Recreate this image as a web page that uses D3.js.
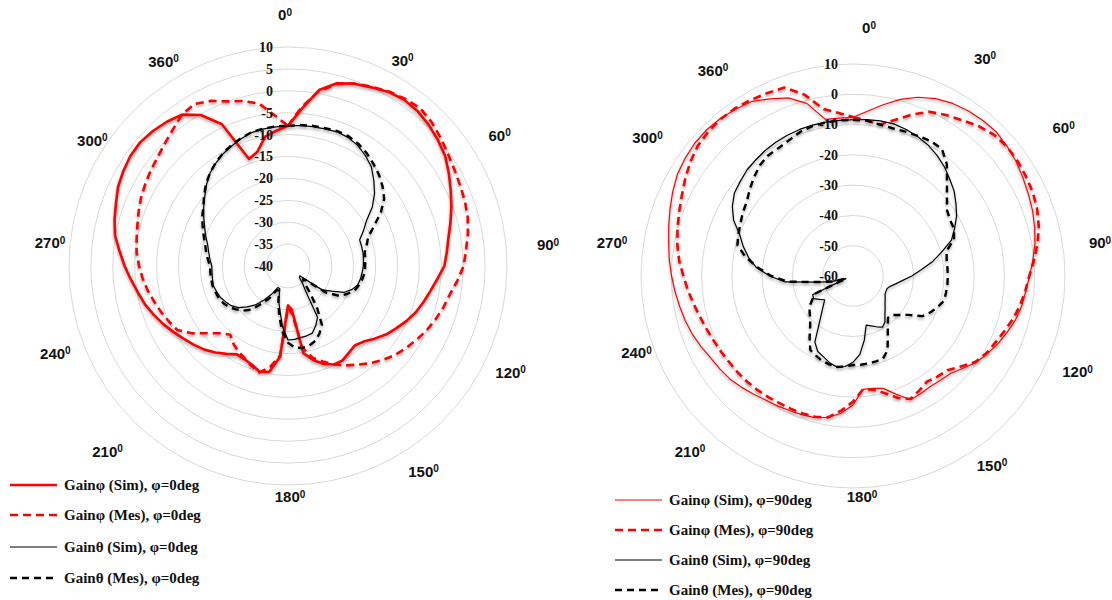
<!DOCTYPE html>
<html>
<head>
<meta charset="utf-8">
<script src="https://cdn.jsdelivr.net/npm/d3@7"></script>
<style>
  body { margin: 0; background: #fff; }
  text { fill: #111; }
</style>
</head>
<body>
<svg id="chart" width="1112" height="600"></svg>
<script>
// categories: one sample every 5 degrees
const angles = d3.range(0, 360, 5);

// angle tick labels (the original prints 360 at the 330 position)
const angleTicks = [0, 30, 60, 90, 120, 150, 180, 210, 240, 270, 300, 330];
const angleTickText = ["0", "30", "60", "90", "120", "150", "180", "210", "240", "270", "300", "360"];

// radial ticks (dB)
const ticksPhi0 = [10, 5, 0, -5, -10, -15, -20, -25, -30, -35, -40];
const ticksPhi90 = [10, 0, -10, -20, -30, -40, -50, -60];

// ---- phi = 0 deg cut ----
const gainPhiSim0 = [
  -8, -4, 0.8, 3.2, 4.3, 5.0, 5.9, 6.3, 6.1, 5.5, 4.7, 3.8,
  2.4, 1.0, -0.3, -1.6, -2.8, -3.6, -4.3, -5.8, -7.0, -8.0, -9.0, -10.2,
  -11.5, -12.7, -14.2, -15.6, -16.3, -15.8, -15.1, -15.2, -16.2, -17.8, -19.8, -30,
  -31, -19.2, -15.5, -15.0, -16.0, -16.5, -16.7, -15.5, -14.2, -13.0, -12.0, -11.0,
  -9.8, -8.6, -7.4, -6.2, -5.2, -4.0, -2.7, -1.4, 0.1, 1.0, 1.8, 2.8,
  3.4, 3.9, 4.0, 3.6, 3.0, 2.2, -0.2, -4.3, -14, -13, -10, -9
];
const gainPhiMes0 = [
  -8, -3.5, 0.5, 3.0, 4.3, 5.2, 6.0, 6.6, 7.0, 6.4, 5.5, 4.6,
  3.9, 3.4, 3.0, 2.5, 1.7, 0.8, 0.1, -1.2, -2.5, -3.3, -4.2, -5.1,
  -6.2, -7.2, -8.3, -9.6, -11.0, -12.5, -13.8, -15.2, -16.8, -18.3, -21, -29,
  -30.5, -19.5, -16.6, -14.8, -15.7, -16.7, -17.4, -18.3, -19.5, -18.3, -16.1, -13.2,
  -10.8, -10.0, -9.2, -8.4, -7.5, -6.7, -6.0, -5.3, -4.9, -4.4, -3.7, -3.0,
  -2.4, -1.8, -1.2, -0.3, 0.8, 2.2, 2.7, 1.6, 0.0, -1.0, -2.4, -5.5
];
const gainThetaSim0 = [
  -8.0, -7.8, -7.7, -7.6, -7.4, -7.6, -8.2, -9.2, -10.4, -12.3, -14.2, -16.5,
  -19.3, -21.0, -22.6, -22.6, -22.6, -22.7, -22.8, -23.0, -23.2, -23.5, -24.4, -25.8,
  -28.5, -30.5, -36.5, -36.3, -34.8, -33, -26.5, -25, -23.7, -23.5, -23.4, -23.2,
  -23.1, -26, -29.5, -31.8, -34.5, -34.6, -32.6, -30.6, -28.4, -26.8, -25.2, -24.2,
  -23.6, -23.0, -22.7, -22.4, -22.5, -22.6, -22.6, -22.1, -21.6, -21.0, -20.0, -19.0,
  -17.8, -16.5, -15.2, -13.7, -12.3, -11.3, -10.4, -9.7, -9.0, -8.4, -8.2, -8.1
];
const gainThetaMes0 = [
  -8.0, -7.7, -7.5, -7.4, -7.2, -7.3, -7.8, -8.6, -9.6, -10.6, -11.8, -13.2,
  -15.5, -18.3, -20.5, -21.4, -22.2, -22.3, -22.4, -22.4, -22.8, -23.2, -23.8, -25.0,
  -26.3, -29.5, -35.5, -35.0, -32.5, -28.5, -24.5, -23.0, -21.8, -21.2, -21.0, -21.3,
  -22.5, -25, -28.5, -31.5, -34, -34, -31.5, -29.5, -27.0, -25.6, -24.6, -23.6,
  -23.0, -22.6, -22.4, -22.2, -22.2, -22.2, -22.2, -21.6, -21.0, -20.4, -19.5, -18.5,
  -17.4, -16.4, -15.0, -13.5, -12.3, -11.2, -10.3, -9.5, -8.9, -8.3, -8.1, -8.0
];

// ---- phi = 90 deg cut ----
const gainPhiSim90 = [
  -7.6, -5.4, -2.6, 0.4, 2.8, 4.6, 5.8, 6.5, 6.9, 7.1, 6.5, 5.8,
  4.8, 3.9, 3.1, 2.1, 1.0, -0.4, -1.7, -2.7, -3.4, -4.4, -5.8, -7.2,
  -8.7, -10.3, -12.6, -14.5, -15.1, -15.5, -15.2, -14.9, -18.5, -21.6, -22.3, -22.4,
  -17.4, -14.5, -12.6, -11.6, -11.2, -10.9, -10.4, -9.9, -9.0, -8.0, -7.0, -6.4,
  -5.8, -4.7, -3.6, -2.7, -1.9, -1.0, -0.1, 0.9, 1.8, 3.0, 4.3, 5.7,
  7.0, 7.7, 8.2, 8.3, 8.0, 7.3, 6.6, 4.5, 2.6, -1.0, -7.5, -7.7
];
const gainPhiMes90 = [
  -7.5, -8.5, -9.2, -6.7, -3.3, -0.2, 1.4, 2.8, 4.6, 5.9, 6.4, 6.3,
  5.9, 5.5, 4.7, 3.5, 1.9, 0.0, -1.8, -2.9, -4.0, -5.3, -6.8, -8.1,
  -9.1, -10.6, -13.5, -16.0, -16.6, -17.4, -16.3, -15.2, -17.2, -20.0, -21.9, -22.4,
  -18.5, -15.4, -12.6, -11.9, -11.7, -11.6, -11.5, -11.2, -10.9, -10.6, -10.4, -10.2,
  -9.8, -9.3, -8.6, -7.7, -6.6, -5.3, -4.0, -2.4, -1.1, 0.0, 1.1, 2.4,
  4.0, 5.6, 6.9, 7.5, 7.8, 7.7, 7.2, 6.7, 6.2, 2.0, -4, -6
];
const gainThetaSim90 = [
  -8.4, -8.2, -8.0, -8.0, -8.5, -9.3, -10.2, -11.5, -13.0, -14.8, -16.4, -18.5,
  -20.5, -23.0, -25.4, -29.8, -33.5, -37.5, -40.6, -43.5, -45.5, -47.1, -48, -48,
  -47.8, -47, -46.2, -45, -43.6, -41.6, -40.5, -41.5, -42.5, -43.2, -38.5, -34,
  -31.5, -30, -29.5, -30.3, -31.6, -32.5, -34.8, -40.4, -43.8, -46.1, -47.8, -46.5,
  -45, -45.3, -57.5, -53, -48.5, -37.5, -32.5, -28, -25, -22.5, -20.2, -16.5,
  -14, -12.2, -11.4, -10.5, -10.0, -9.4, -9.0, -8.7, -8.5, -8.4, -8.4, -8.4
];
const gainThetaMes90 = [
  -8.4, -8.5, -9.2, -9.5, -9.3, -9.0, -8.6, -8.8, -11.8, -16.1, -19.5, -22.1,
  -23, -23.2, -24.5, -28, -28.6, -28.7, -28.7, -28.7, -28.8, -28.8, -30.2, -31.7,
  -33.5, -37.6, -40, -41.8, -42, -40, -37, -33, -31, -30.8, -30.7, -30.6,
  -30.6, -30, -29.5, -29.8, -30.2, -31, -31.8, -35, -38, -40, -41.3, -42.5,
  -44.5, -46, -57.5, -53, -48.5, -38.5, -33, -28.5, -24, -20.5, -19.7, -19,
  -18, -17.2, -15.5, -13.8, -12.2, -11.3, -11.1, -10.4, -9.3, -8.7, -8.5, -8.4
];

const namesPhi0 = ["Gainφ (Sim), φ=0deg", "Gainφ (Mes), φ=0deg", "Gainθ (Sim), φ=0deg", "Gainθ (Mes), φ=0deg"];
const namesPhi90 = ["Gainφ (Sim), φ=90deg", "Gainφ (Mes), φ=90deg", "Gainθ (Sim), φ=90deg", "Gainθ (Mes), φ=90deg"];

const svg = d3.select("#chart");

// soft grey shadow like the spreadsheet line effect
const defs = svg.append("defs");
const f = defs.append("filter").attr("id", "shadow")
  .attr("x", "-10%").attr("y", "-10%").attr("width", "120%").attr("height", "120%");
f.append("feGaussianBlur").attr("in", "SourceAlpha").attr("stdDeviation", 1.8).attr("result", "b");
f.append("feOffset").attr("in", "b").attr("dx", 0).attr("dy", 2).attr("result", "o");
f.append("feComponentTransfer").attr("in", "o").attr("result", "s")
  .append("feFuncA").attr("type", "linear").attr("slope", 0.35);
const m = f.append("feMerge");
m.append("feMergeNode").attr("in", "s");
m.append("feMergeNode").attr("in", "SourceGraphic");

const rad = d => d * Math.PI / 180;

function drawPolar(cfg) {
  const g = svg.append("g").attr("transform", "translate(" + cfg.cx + "," + cfg.cy + ")");
  const min = d3.min(cfg.ticks), max = d3.max(cfg.ticks);
  const r = d3.scaleLinear().domain([min, max]).range([0, cfg.radius]).clamp(true);

  // rings
  g.selectAll("circle.ring")
    .data(cfg.ticks.filter(t => t > min))
    .join("circle")
    .attr("class", "ring")
    .attr("r", d => r(d))
    .attr("fill", "none")
    .attr("stroke", "#d9d9d9")
    .attr("stroke-width", 1);

  // data lines
  const line = d3.lineRadial()
    .angle((d, i) => rad(angles[i]))
    .radius(d => r(d))
    .curve(d3.curveLinearClosed);

  const lines = g.append("g").attr("filter", "url(#shadow)");
  cfg.series.forEach(s => {
    lines.append("path")
      .datum(s.values)
      .attr("d", line)
      .attr("fill", "none")
      .attr("stroke", s.color)
      .attr("stroke-width", s.width)
      .attr("stroke-dasharray", s.dash || null)
      .attr("stroke-linejoin", "round");
  });

  // radial tick labels
  g.selectAll("text.tick")
    .data(cfg.ticks)
    .join("text")
    .attr("class", "tick")
    .attr("x", -15)
    .attr("y", d => -r(d))
    .attr("dy", "0.35em")
    .attr("text-anchor", "end")
    .style("font-family", "'Liberation Serif', serif")
    .style("font-weight", "bold")
    .style("font-size", "14px")
    .text(d => d);

  // angle labels
  const lr = cfg.radius + 30;
  angleTicks.forEach((a, i) => {
    const nd = cfg.labelNudge[i];
    const t = g.append("text")
      .attr("x", lr * Math.sin(rad(a)) + nd[0])
      .attr("y", -lr * Math.cos(rad(a)) + nd[1])
      .attr("dy", "0.35em")
      .attr("text-anchor", "middle")
      .style("font-family", "'Liberation Sans', sans-serif")
      .style("font-weight", "bold")
      .style("font-size", "15px");
    t.append("tspan").text(angleTickText[i]);
    t.append("tspan").attr("dy", "-0.45em").style("font-size", "10px").text("0");
  });
}

function drawLegend(x0, rows, series, names) {
  const g = svg.append("g");
  series.forEach((s, i) => {
    g.append("line")
      .attr("x1", x0).attr("x2", x0 + 47)
      .attr("y1", rows[i]).attr("y2", rows[i])
      .attr("stroke", s.color)
      .attr("stroke-width", s.width)
      .attr("stroke-dasharray", s.dash || null);
    g.append("text")
      .attr("x", x0 + 54).attr("y", rows[i])
      .attr("dy", "0.35em")
      .style("font-family", "'Liberation Serif', serif")
      .style("font-weight", "bold")
      .style("font-size", "15px")
      .text(names[i]);
  });
}

const seriesPhi0 = [
  { values: gainPhiSim0, color: "#ff0000", width: 2.6 },
  { values: gainPhiMes0, color: "#ff0000", width: 2.6, dash: "8,5" },
  { values: gainThetaSim0, color: "#000", width: 1.2 },
  { values: gainThetaMes0, color: "#000", width: 2.4, dash: "7,5" }
];
const seriesPhi90 = [
  { values: gainPhiSim90, color: "#ff0000", width: 1.2 },
  { values: gainPhiMes90, color: "#ff0000", width: 2.6, dash: "8,5" },
  { values: gainThetaSim90, color: "#000", width: 1.2 },
  { values: gainThetaMes90, color: "#000", width: 2.4, dash: "7,5" }
];

drawPolar({
  cx: 288, cy: 266, radius: 219, ticks: ticksPhi0, series: seriesPhi0,
  labelNudge: [[-3, -2], [-10, 10], [-4, -6], [11, -21], [7, -18], [11, -10],
               [2, -18], [-56, -30], [-17, -37], [11, -23], [20, -1], [0, 11]]
});
drawPolar({
  cx: 853, cy: 276, radius: 212, ticks: ticksPhi90, series: seriesPhi90,
  labelNudge: [[16, -6], [11, -8], [1, -27], [5, -33], [15, -25], [18, -20],
               [9, -21], [-42, -34], [-7, -44], [1, -33], [4, -17], [-19, 4]]
});

drawLegend(10, [485, 515, 547, 578], seriesPhi0, namesPhi0);
drawLegend(615, [500, 530, 560, 590], seriesPhi90, namesPhi90);
</script>
</body>
</html>
